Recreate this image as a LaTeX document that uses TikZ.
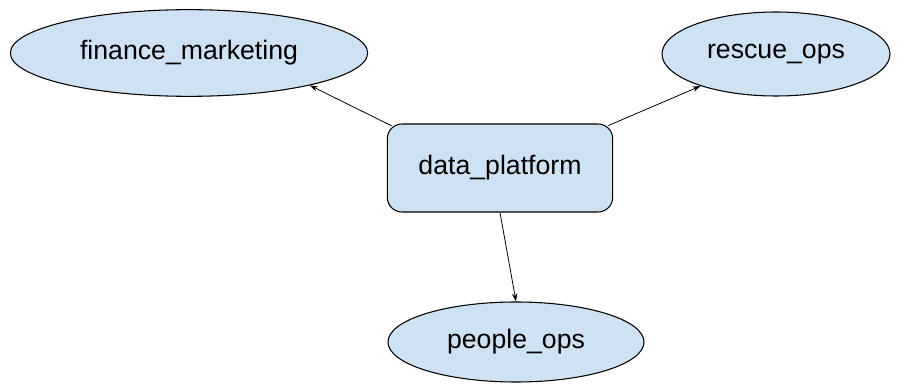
\documentclass[tikz,border=0pt]{standalone}
\usepackage{fontspec}
\setmainfont{Liberation Sans}
\usetikzlibrary{shapes.geometric,arrows.meta}
\definecolor{nodeblue}{HTML}{CFE2F3}
\begin{document}
\begin{tikzpicture}[x=0.75pt,y=-0.75pt,-{Stealth[length=6pt,width=4pt]}]
    \tikzstyle{team}=[ellipse,draw=black,fill=nodeblue,line width=0.8pt,inner sep=0pt,font=\fontsize{20}{24}\selectfont]
    \tikzstyle{hub}=[rectangle,rounded corners=11pt,draw=black,fill=nodeblue,line width=0.8pt,inner sep=0pt,font=\fontsize{20}{24}\selectfont]
    \useasboundingbox (0,0) rectangle (904,388);

    \node[hub,minimum width=169pt,minimum height=66pt] (dp) at (500,168) {data\_platform};

    \foreach \name/\txt/\x/\y/\w/\h in {fin/finance\_marketing/189/53/268/65,
                                        rescue/rescue\_ops/776/54/171/63,
                                        people/people\_ops/516/342/192/60}
        \node[team,minimum width=\w pt,minimum height=\h pt] (\name) at (\x,\y) {\txt};

    \draw[line width=0.6pt,shorten <=-4pt] (dp.north west) -- (fin.-15);
    \draw[line width=0.6pt,shorten <=-4pt] (dp.north east) -- (rescue.-157);
    \draw[line width=0.6pt] (dp.south) -- (people.north);
\end{tikzpicture}
\end{document}
